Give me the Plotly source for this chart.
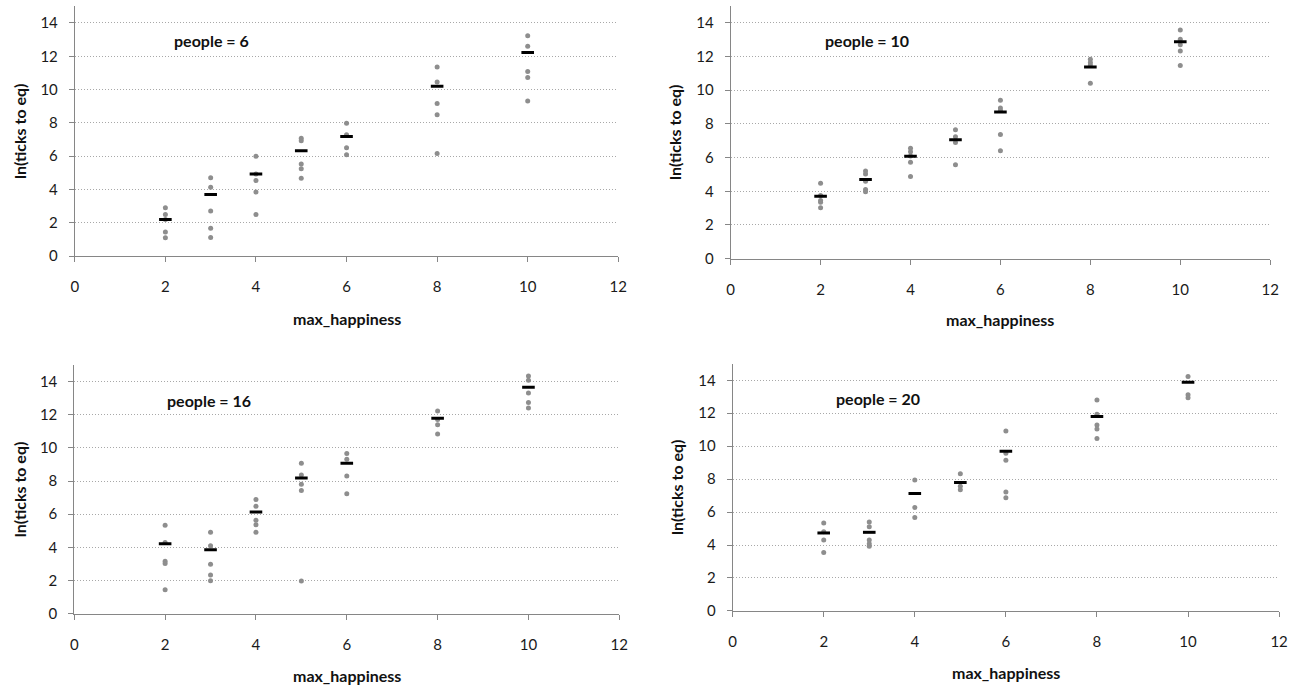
import plotly.graph_objects as go

# ---------------- data ----------------
categories = [2, 3, 4, 5, 6, 8, 10]
panel_labels = ["people = 6", "people = 10", "people = 16", "people = 20"]

# individual runs (grey dots) per max_happiness value, per panel
runs_p6 = [
    [2.9, 2.5, 2.2, 1.45, 1.1],
    [4.7, 4.13, 2.7, 1.67, 1.11],
    [6.0, 4.93, 4.53, 3.84, 2.5],
    [7.08, 6.92, 5.53, 5.25, 4.67],
    [7.97, 7.28, 6.5, 6.08],
    [11.35, 10.46, 9.17, 8.49, 6.16],
    [13.24, 12.6, 11.09, 10.72, 9.32],
]
runs_p10 = [
    [4.47, 3.75, 3.45, 3.35, 3.02],
    [5.2, 5.02, 4.6, 4.1, 3.98],
    [6.55, 6.35, 6.1, 5.73, 4.88],
    [7.65, 7.24, 6.9, 5.57],
    [9.41, 8.94, 8.8, 7.37, 6.41],
    [11.84, 11.65, 11.5, 10.41],
    [13.57, 13.02, 12.69, 12.33, 11.47],
]
runs_p16 = [
    [5.33, 4.3, 3.17, 3.03, 1.45],
    [4.91, 4.1, 2.99, 2.34, 2.0],
    [6.89, 6.48, 5.64, 5.37, 4.91],
    [9.07, 8.36, 7.8, 7.43, 1.98],
    [9.66, 9.31, 8.3, 7.23],
    [12.22, 11.7, 11.39, 10.83],
    [14.32, 14.06, 13.3, 12.73, 12.4],
]
runs_p20 = [
    [5.33, 4.81, 4.31, 3.55],
    [5.39, 5.11, 4.31, 4.07, 3.93],
    [7.95, 6.27, 5.67],
    [8.33, 7.57, 7.35],
    [10.92, 9.57, 9.15, 7.21, 6.87],
    [12.8, 11.94, 11.28, 11.04, 10.47],
    [14.22, 13.12, 12.94],
]
# mean per max_happiness value (black dashes)
mean_p6 = [2.2, 3.7, 4.93, 6.32, 7.18, 10.2, 12.23]
mean_p10 = [3.71, 4.7, 6.08, 7.06, 8.7, 11.37, 12.88]
mean_p16 = [4.22, 3.86, 6.14, 8.18, 9.07, 11.78, 13.64]
mean_p20 = [4.73, 4.77, 7.13, 7.79, 9.69, 11.8, 13.88]

y_ticks = [0, 2, 4, 6, 8, 10, 12, 14]
x_ticks = [0, 2, 4, 6, 8, 10, 12]

all_runs = [runs_p6, runs_p10, runs_p16, runs_p20]
all_means = [mean_p6, mean_p10, mean_p16, mean_p20]

# ---------------- layout geometry (pixels) ----------------
W, H = 1300, 696
# (x at 0, x at 12, y at 15, y at 0) in pixel coords
boxes = [
    (71.5, 620.5, 6.4, 259),
    (734, 1279, 6, 261.7),
    (71, 621.5, 369, 621),
    (736, 1288, 368, 618),
]
label_pos = [(2.15, 12.96), (2.05, 12.94), (2.0, 12.86), (2.22, 12.92)]
xtitle_y = [322, 323.3, 683, 680]
ytitle_x = [15, 677.5, 15, 679.5]

FONT = "Lato, 'Open Sans', sans-serif"
fig = go.Figure()
annotations = []

for i in range(4):
    ax = "" if i == 0 else str(i + 1)
    xs, ys = [], []
    for c, vals in zip(categories, all_runs[i]):
        xs += [c] * len(vals)
        ys += vals
    fig.add_trace(go.Scatter(
        x=xs, y=ys, mode="markers", xaxis="x" + ax, yaxis="y" + ax,
        marker=dict(size=5, color="#8e8e8e"), showlegend=False, hoverinfo="x+y"))
    fig.add_trace(go.Scatter(
        x=categories, y=all_means[i], mode="markers", xaxis="x" + ax, yaxis="y" + ax,
        marker=dict(symbol="line-ew", size=9, line=dict(width=3, color="black")),
        showlegend=False, hoverinfo="x+y"))

    x0, x1, yt, yb = boxes[i]
    xdom = [x0 / W, x1 / W]
    ydom = [1 - yb / H, 1 - yt / H]
    common = dict(showline=True, linecolor="#868686", linewidth=1, ticks="outside",
                  tickcolor="#868686", ticklen=5, zeroline=False,
                  tickfont=dict(family=FONT, size=15, color="#1a1a1a"))
    fig.layout["xaxis" + ax] = dict(domain=xdom, range=[0, 12], tickvals=x_ticks,
                                    showgrid=False, anchor="y" + ax,
                                    ticklabelstandoff=12, **common)
    fig.layout["yaxis" + ax] = dict(domain=ydom, range=[0, 15], tickvals=y_ticks,
                                    showgrid=True, gridcolor="#a8a8a8", griddash="1px,2px",
                                    gridwidth=1, anchor="x" + ax,
                                    ticklabelstandoff=8, **common)

    lx, ly = label_pos[i]
    annotations.append(dict(x=lx, y=ly, xref="x" + ax, yref="y" + ax, text="<b>%s</b>" % panel_labels[i],
                            showarrow=False, xanchor="left", yanchor="middle",
                            font=dict(family=FONT, size=16, color="#111")))
    annotations.append(dict(x=(x0 + x1) / 2 / W, y=1 - xtitle_y[i] / H, xref="paper", yref="paper",
                            text="<b>max_happiness</b>", showarrow=False, xanchor="center", yanchor="middle",
                            font=dict(family=FONT, size=16, color="#111")))
    annotations.append(dict(x=ytitle_x[i] / W, y=1 - (yt + yb) / 2 / H, xref="paper", yref="paper",
                            text="<b>ln(ticks to eq)</b>", showarrow=False, textangle=-90,
                            xanchor="center", yanchor="middle",
                            font=dict(family=FONT, size=16, color="#111")))

fig.update_layout(width=W, height=H, margin=dict(l=0, r=0, t=0, b=0),
                  paper_bgcolor="white", plot_bgcolor="white",
                  annotations=annotations, showlegend=False)

fig.write_html("out.html")
